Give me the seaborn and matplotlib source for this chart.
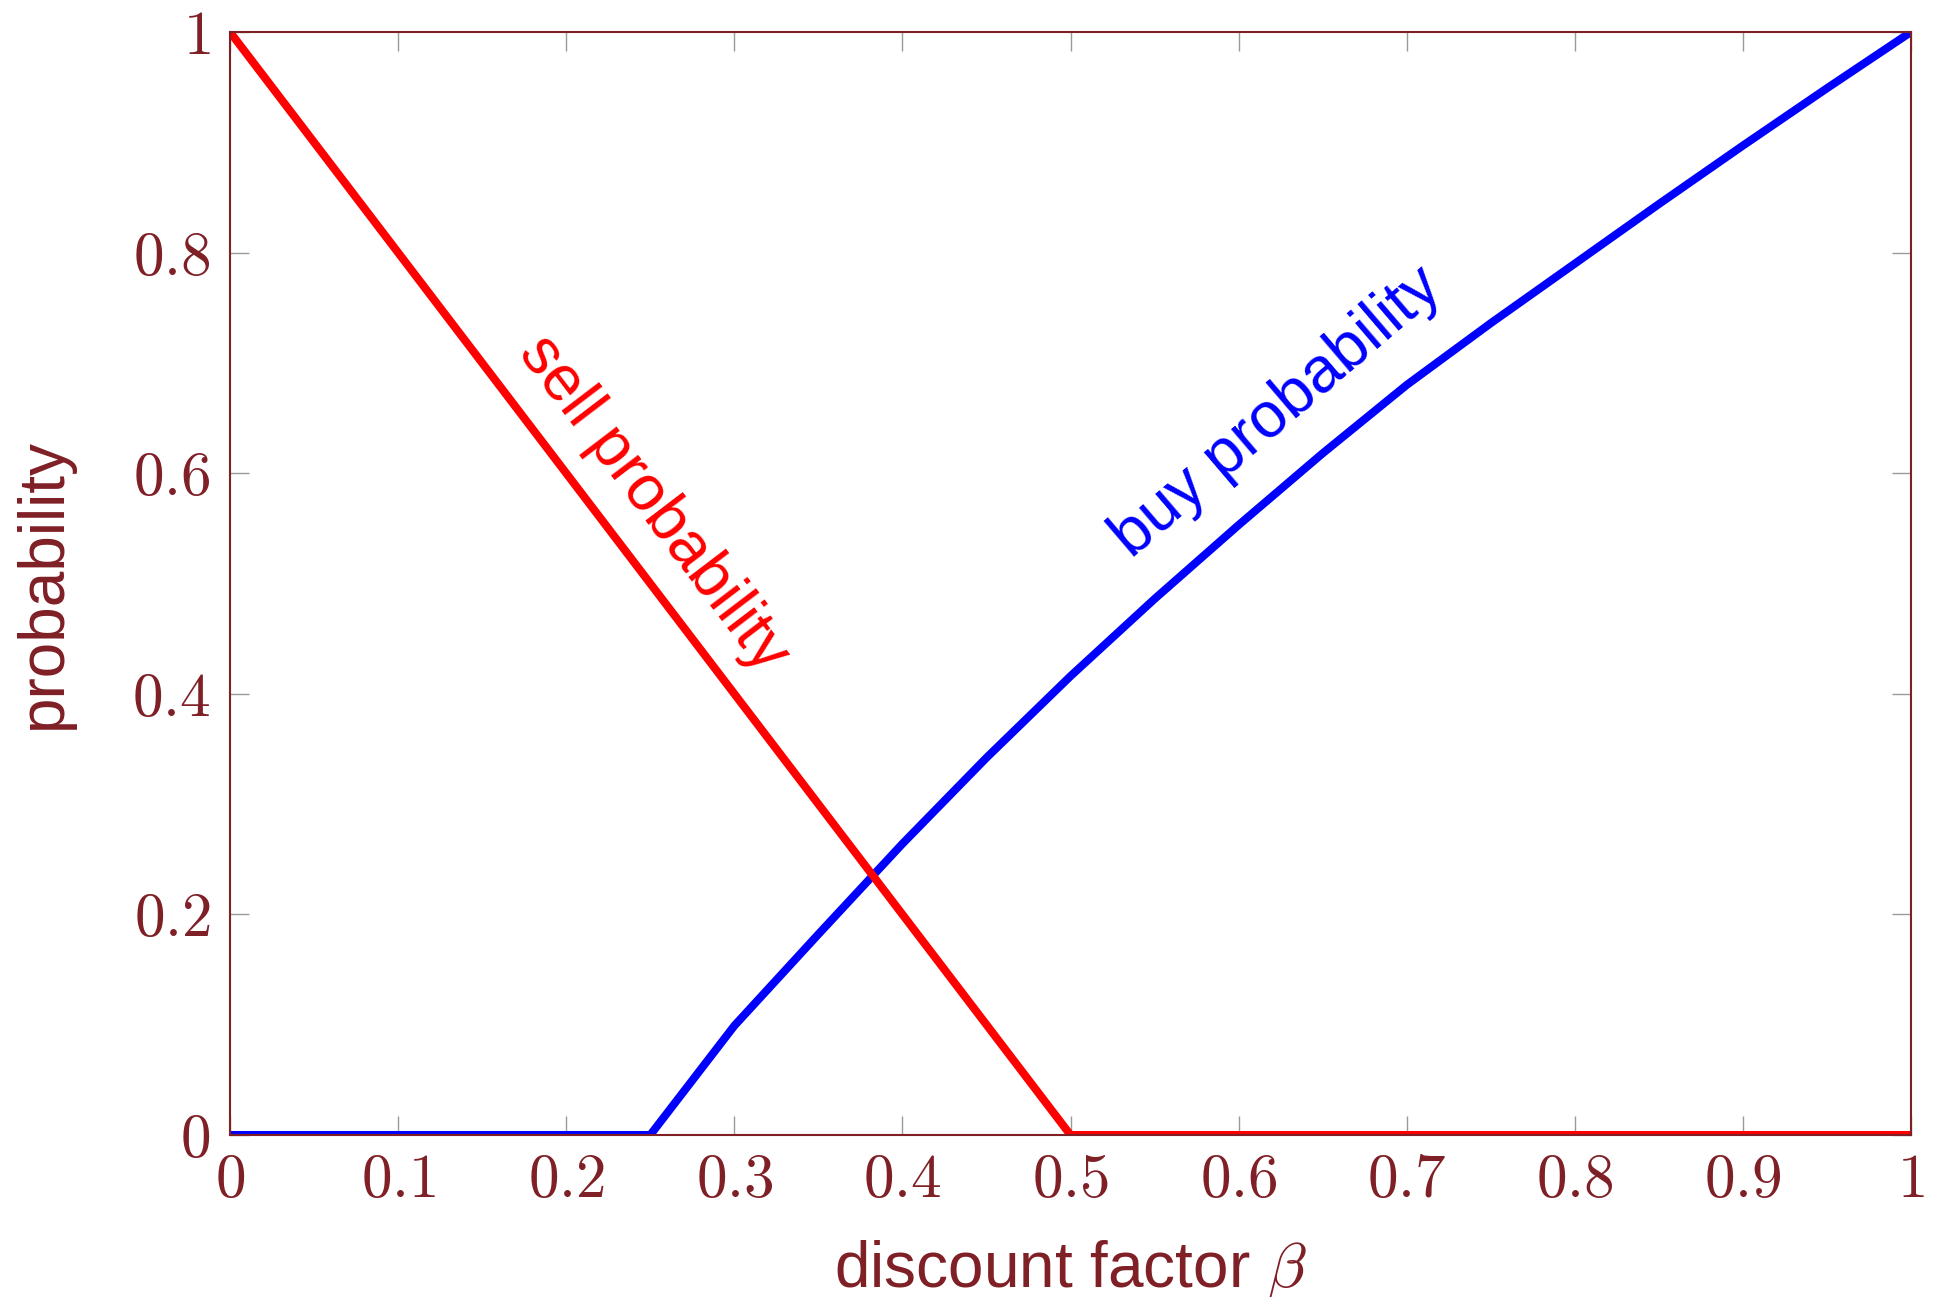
import matplotlib
matplotlib.use("Agg")
import matplotlib.pyplot as plt
import seaborn as sns
import pandas as pd

# data
beta_sell = [0.0, 0.5, 1.0]
sell_prob = [1.0, 0.0, 0.0]
beta_buy = [0.0, 0.25, 0.3, 0.35, 0.4, 0.45, 0.5, 0.55, 0.6, 0.65, 0.7, 0.75, 0.8, 0.85, 0.9, 0.95, 1.0]
buy_prob = [0.0, 0.0, 0.099, 0.182, 0.264, 0.342, 0.416, 0.486, 0.553, 0.618, 0.680, 0.736, 0.790, 0.844, 0.897, 0.949, 1.0]
xticks = [0, 0.1, 0.2, 0.3, 0.4, 0.5, 0.6, 0.7, 0.8, 0.9, 1]
xtick_labels = ["0", "0.1", "0.2", "0.3", "0.4", "0.5", "0.6", "0.7", "0.8", "0.9", "1"]
yticks = [0, 0.2, 0.4, 0.6, 0.8, 1]
ytick_labels = ["0", "0.2", "0.4", "0.6", "0.8", "1"]

sns.set_theme(style="white")
plt.rcParams["font.family"] = ["Liberation Sans", "DejaVu Sans"]
plt.rcParams["mathtext.fontset"] = "cm"

DARK = "#7f1f26"
TICKC = "#9a9a9a"

df_sell = pd.DataFrame({"beta": beta_sell, "p": sell_prob})
df_buy = pd.DataFrame({"beta": beta_buy, "p": buy_prob})

fig = plt.figure(figsize=(19.42, 12.97), dpi=100)
ax = fig.add_axes([230/1942, 1 - 1135/1297, (1911-230)/1942, (1135-32)/1297])

sns.lineplot(data=df_buy, x="beta", y="p", ax=ax, color="#0000ff", linewidth=5.8, estimator=None, sort=False)
sns.lineplot(data=df_sell, x="beta", y="p", ax=ax, color="#ff0000", linewidth=5.8, estimator=None, sort=False)

ax.set_xlim(0, 1)
ax.set_ylim(0, 1)
ax.set_xticks(xticks)
ax.set_xticklabels(["$" + t + "$" for t in xtick_labels])
ax.set_yticks(yticks)
ax.set_yticklabels(["$" + t + "$" for t in ytick_labels])

ax.tick_params(axis="both", which="both", direction="in", length=14, width=1.0,
               color=TICKC, labelcolor=DARK, labelsize=44,
               top=True, right=True, bottom=True, left=True)
ax.tick_params(axis="x", pad=13)
ax.tick_params(axis="y", pad=14)

for s in ax.spines.values():
    s.set_color(DARK)
    s.set_linewidth(1.5)
    s.set_visible(True)

ax.set_xlabel(r"discount factor $\beta$", fontsize=46, color=DARK, labelpad=20)
ax.set_ylabel("probability", fontsize=46, color=DARK, labelpad=42)

ax.text(0.2516, 0.572, "sell probability", color="#ff0000", fontsize=46,
        rotation=-52.7, rotation_mode="anchor", ha="center", va="center")
ax.text(0.623, 0.655, "buy probability", color="#0000ff", fontsize=46,
        rotation=40.5, rotation_mode="anchor", ha="center", va="center")

ax.grid(False)
fig.savefig("out.png", dpi=100, facecolor="white")
